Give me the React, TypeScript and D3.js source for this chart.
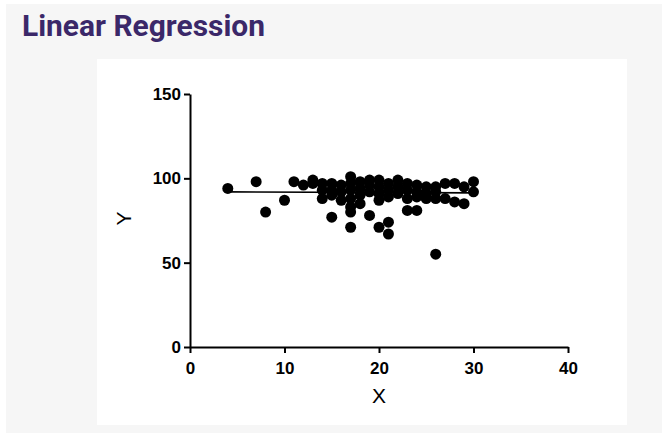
import * as d3 from 'd3';
import { useEffect, useRef } from 'react';

const WIDTH = 662;
const HEIGHT = 433;

// scatter points (x, y)
const pointX = [
    4, 7, 8, 10, 11, 12, 13, 13, 14, 14, 14,
    15, 15, 15, 15, 16, 16, 16,
    17, 17, 17, 17, 17, 17, 17,
    18, 18, 18, 18, 19, 19, 19, 19,
    20, 20, 20, 20, 20, 21, 21, 21, 21, 21,
    22, 22, 22, 23, 23, 23, 23, 24, 24, 24, 24,
    25, 25, 25, 26, 26, 26, 26, 27, 27, 28, 28, 29, 29, 30, 30,
];
const pointY = [
    94, 98, 80, 87, 98, 96, 99, 97, 97, 93, 88,
    97, 93, 90, 77, 96, 92, 87,
    101, 97, 93, 88, 83, 80, 71,
    98, 94, 90, 85, 99, 96, 92, 78,
    99, 95, 91, 87, 71, 97, 93, 89, 74, 67,
    99, 95, 91, 97, 93, 88, 81, 96, 92, 89, 81,
    95, 91, 88, 95, 92, 88, 55, 97, 88, 97, 86, 95, 85, 98, 92,
];

// fitted line end points
const fitX = [4, 30];
const fitY = [92, 91.4];

const xTicks = [0, 10, 20, 30, 40];
const yTicks = [0, 50, 100, 150];

const TITLE = 'Linear Regression';
const X_LABEL = 'X';
const Y_LABEL = 'Y';

const FONT = '"Liberation Sans", Arial, sans-serif';

export default function App() {
    const svgRef = useRef<SVGSVGElement | null>(null);

    useEffect(() => {
        if (!svgRef.current) {
            return;
        }
        const svg = d3.select(svgRef.current);
        svg.selectAll('*').remove();

        // page + card background
        svg.append('rect').attr('width', WIDTH).attr('height', HEIGHT).attr('fill', '#ffffff');
        svg.append('rect')
            .attr('x', 6)
            .attr('y', 4)
            .attr('width', WIDTH - 6)
            .attr('height', HEIGHT - 4)
            .attr('fill', '#f6f6f6');
        svg.append('rect')
            .attr('x', 97)
            .attr('y', 59)
            .attr('width', 530)
            .attr('height', 366)
            .attr('fill', '#ffffff');

        svg.append('text')
            .attr('x', 22)
            .attr('y', 36)
            .attr('font-family', 'Roboto, "Noto Sans", sans-serif')
            .attr('font-weight', 700)
            .attr('font-size', '29px')
            .attr('fill', '#3b2869')
            .attr('textLength', 243)
            .attr('lengthAdjust', 'spacingAndGlyphs')
            .text(TITLE);

        const x = d3.scaleLinear().domain([0, 40]).range([190, 568]);
        const y = d3.scaleLinear().domain([0, 150]).range([347, 94]);

        const styleAxis = (g: d3.Selection<SVGGElement, unknown, null, undefined>) => {
            g.select('.domain').attr('stroke', '#000').attr('stroke-width', 2);
            g.selectAll('.tick line').attr('stroke', '#000').attr('stroke-width', 2);
            g.selectAll('.tick text')
                .attr('fill', '#000')
                .attr('font-family', FONT)
                .attr('font-weight', 700)
                .attr('font-size', '17px');
        };

        svg.append('g')
            .attr('transform', `translate(0,${y(0)})`)
            .call(d3.axisBottom(x).tickValues(xTicks).tickSize(6).tickSizeOuter(0).tickPadding(9))
            .call(styleAxis);

        svg.append('g')
            .attr('transform', `translate(${x(0)},0)`)
            .call(d3.axisLeft(y).tickValues(yTicks).tickSize(6).tickSizeOuter(0).tickPadding(3))
            .call(styleAxis);

        svg.append('text')
            .attr('x', (x(0) + x(40)) / 2)
            .attr('y', 403)
            .attr('text-anchor', 'middle')
            .attr('font-family', FONT)
            .attr('font-size', '21px')
            .attr('fill', '#000')
            .text(X_LABEL);

        svg.append('text')
            .attr('transform', `translate(131,${(y(0) + y(150)) / 2 - 2}) rotate(-90)`)
            .attr('text-anchor', 'middle')
            .attr('font-family', FONT)
            .attr('font-size', '21px')
            .attr('fill', '#000')
            .text(Y_LABEL);

        const points = pointX.map((px, i) => ({ x: px, y: pointY[i] }));

        svg.append('g')
            .selectAll('circle')
            .data(points)
            .join('circle')
            .attr('cx', (d) => x(d.x))
            .attr('cy', (d) => y(d.y))
            .attr('r', 5.5)
            .attr('fill', '#000');

        const line = d3
            .line<number>()
            .x((d) => x(d))
            .y((_d, i) => y(fitY[i]));

        svg.append('path')
            .datum(fitX)
            .attr('d', line)
            .attr('fill', 'none')
            .attr('stroke', '#000')
            .attr('stroke-width', 1.6);
    }, []);

    return (
        <svg
            ref={svgRef}
            width={WIDTH}
            height={HEIGHT}
            style={{ position: 'absolute', left: 0, top: 0, display: 'block' }}
        />
    );
}
